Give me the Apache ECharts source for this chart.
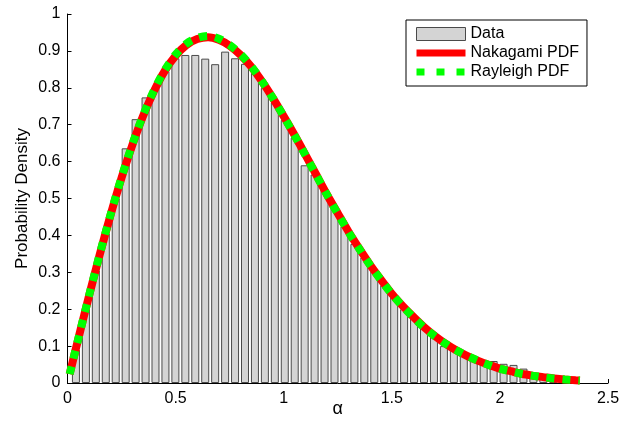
<!DOCTYPE html>
<html><head><meta charset="utf-8">
<script src="https://cdn.jsdelivr.net/npm/echarts@6/dist/echarts.min.js"></script>
<style>html,body{margin:0;padding:0;background:#fff}#c{width:634px;height:422px}</style>
</head><body><div id="c"></div>
<script>
// Histogram bin centres (alpha) and normalised heights
const binCenters = [0.039,0.085,0.131,0.177,0.223,0.269,0.315,0.361,0.407,0.453,
  0.499,0.545,0.591,0.637,0.683,0.729,0.775,0.821,0.867,0.913,
  0.959,1.005,1.051,1.097,1.143,1.189,1.235,1.281,1.327,1.373,
  1.419,1.465,1.511,1.557,1.603,1.649,1.695,1.741,1.787,1.833,
  1.879,1.925,1.971,2.017,2.063,2.109,2.155,2.201,2.247,2.293,2.339];
const binHeights = [0.09,0.20,0.305,0.405,0.50,0.636,0.715,0.774,0.80,0.845,
  0.88,0.889,0.889,0.879,0.864,0.898,0.880,0.865,0.84,0.80,
  0.76,0.713,0.665,0.59,0.565,0.525,0.473,0.424,0.377,0.34,
  0.302,0.265,0.232,0.20,0.175,0.15,0.127,0.100,0.09,0.077,
  0.063,0.054,0.0596,0.052,0.049,0.039,0.02,0.016,0.012,0.008,0.005];
// PDF curves
const curveX = [0.01,0.05,0.1,0.15,0.2,0.25,0.3,0.35,0.4,0.45,0.5,0.55,0.6,0.65,0.7,0.75,0.8,0.85,0.9,0.95,
  1.0,1.05,1.1,1.15,1.2,1.25,1.3,1.35,1.4,1.45,1.5,1.55,1.6,1.65,1.7,1.75,1.8,1.85,1.9,1.95,
  2.0,2.05,2.1,2.15,2.2,2.25,2.3,2.35,2.37];
const nakagamiPdf = [0.024,0.120,0.237,0.350,0.457,0.556,0.645,0.724,0.791,0.846,0.887,0.916,0.932,0.937,0.930,0.914,0.889,0.857,0.817,0.772,
  0.723,0.672,0.619,0.565,0.511,0.460,0.410,0.364,0.320,0.280,0.242,0.209,0.179,0.151,0.127,0.106,0.088,0.073,0.060,0.049,
  0.039,0.032,0.025,0.020,0.016,0.012,0.0096,0.0074,0.0067];
const rayleighPdf = [0.024,0.120,0.2375,0.351,0.458,0.5575,0.647,0.726,0.793,0.848,0.890,0.9195,0.935,0.9405,0.933,0.916,0.891,0.858,0.817,0.772,
  0.7225,0.671,0.618,0.564,0.5105,0.459,0.409,0.363,0.319,0.279,0.241,0.208,0.178,0.150,0.1265,0.106,0.088,0.073,0.060,0.0485,
  0.039,0.0315,0.025,0.020,0.0157,0.0123,0.0096,0.0074,0.0067];
const xTicks = [0, 0.5, 1, 1.5, 2, 2.5];
const yTicks = [0, 0.1, 0.2, 0.3, 0.4, 0.5, 0.6, 0.7, 0.8, 0.9, 1];
const seriesNames = ['Data', 'Nakagami PDF', 'Rayleigh PDF'];

const FONT = '"Liberation Sans", Arial, Helvetica, sans-serif';
const chart = echarts.init(document.getElementById('c'), null, {renderer: 'canvas'});
const axisCommon = {
  axisLine: {show: true, lineStyle: {color: '#000', width: 1}},
  axisTick: {show: true, inside: true, length: 4, lineStyle: {color: '#000'}},
  splitLine: {show: false},
  nameMoveOverlap: false,
  axisLabel: {color: '#000', fontSize: 16, fontFamily: FONT},
  nameTextStyle: {color: '#000', fontSize: 16, fontFamily: FONT}
};
chart.setOption({
  animation: false,
  backgroundColor: '#fff',
  grid: {left: 67.5, right: 26, top: 14, bottom: 39, containLabel: false, outerBoundsMode: 'none'},
  xAxis: Object.assign({}, axisCommon, {
    type: 'value', min: xTicks[0], max: xTicks[xTicks.length - 1], interval: xTicks[1] - xTicks[0],
    name: 'α', nameLocation: 'middle', nameGap: 17,
    nameTextStyle: {color: '#000', fontSize: 18, fontFamily: FONT},
    axisLabel: Object.assign({}, axisCommon.axisLabel, {margin: 8, formatter: v => String(+v.toFixed(2))})
  }),
  yAxis: Object.assign({}, axisCommon, {
    type: 'value', min: yTicks[0], max: yTicks[yTicks.length - 1], interval: 0.1,
    name: 'Probability Density', nameLocation: 'middle', nameGap: 37, nameRotate: 90,
    nameTextStyle: {color: '#000', fontSize: 17, fontFamily: FONT},
    axisLabel: Object.assign({}, axisCommon.axisLabel, {margin: 7, formatter: v => String(+v.toFixed(2))})
  }),
  legend: {
    orient: 'vertical', left: 406, top: 20,
    itemWidth: 49, itemHeight: 13, itemGap: 3,
    padding: [6, 8, 6, 10],
    borderColor: '#000', borderWidth: 1, backgroundColor: '#fff',
    textStyle: {color: '#000', fontSize: 16, lineHeight: 16, fontFamily: FONT},
    data: [
      {name: seriesNames[0], icon: 'rect', itemStyle: {color: '#d4d4d4', borderColor: '#4a4a4a', borderWidth: 1}},
      {name: seriesNames[1], icon: 'path://M0,0M0,3h49v7h-49zM49,13', itemStyle: {color: '#ff0000', borderWidth: 0}},
      {name: seriesNames[2], icon: 'path://M0,0M0,3h8v7h-8zM20,3h8v7h-8zM40,3h8v7h-8zM49,13', itemStyle: {color: '#00ff00', borderWidth: 0}}
    ]
  },
  series: [
    {
      name: seriesNames[0], type: 'bar', barWidth: 8,
      itemStyle: {color: '#d4d4d4', borderColor: '#4a4a4a', borderWidth: 1},
      data: binCenters.map((c, i) => [c, binHeights[i]]), z: 1
    },
    {
      name: seriesNames[1], type: 'line', symbol: 'none', smooth: 0.3,
      lineStyle: {color: '#ff0000', width: 8, cap: 'butt'}, itemStyle: {color: '#ff0000'},
      data: curveX.map((x, i) => [x, nakagamiPdf[i]]), z: 3
    },
    {
      name: seriesNames[2], type: 'line', symbol: 'none', smooth: 0.3,
      lineStyle: {color: '#00ff00', width: 8, type: [8, 8], cap: 'butt'}, itemStyle: {color: '#00ff00'},
      data: curveX.map((x, i) => [x, rayleighPdf[i]]), z: 4
    }
  ]
});
</script></body></html>
